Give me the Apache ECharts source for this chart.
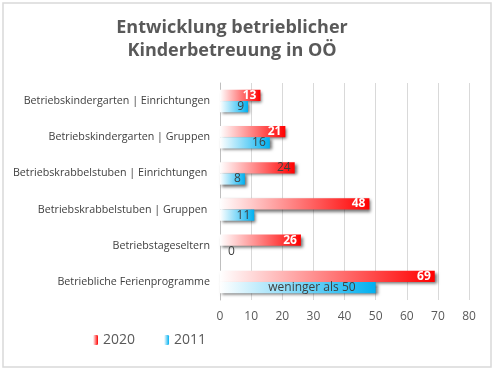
<!DOCTYPE html>
<html>
<head>
<meta charset="utf-8">
<script src="https://cdn.jsdelivr.net/npm/echarts@6/dist/echarts.min.js"></script>
<style>
html,body{margin:0;padding:0;background:#fff;}
#c{width:495px;height:372px;}
</style>
</head>
<body>
<div id="c"></div>
<script>
const categories = [
  "Betriebskindergarten | Einrichtungen",
  "Betriebskindergarten | Gruppen",
  "Betriebskrabbelstuben | Einrichtungen ",
  "Betriebskrabbelstuben | Gruppen ",
  "Betriebstageseltern",
  "Betriebliche Ferienprogramme"
];
const values2020 = [13, 21, 24, 48, 26, 69];
const values2011 = [9, 16, 8, 11, 0, 50];
const labels2011 = ["9", "16", "8", "11", "0", "weninger als 50"];
const xTicks = { min: 0, max: 80, interval: 10 };
const titleLines = ["Entwicklung betrieblicher", "Kinderbetreuung in OÖ"];

const FONT = "'Open Sans', 'Noto Sans', sans-serif";

const redGrad = new echarts.graphic.LinearGradient(0, 0, 1, 0, [
  {offset: 0, color: '#ffffff'},
  {offset: 1, color: '#ff0000'}
]);
const blueGrad = new echarts.graphic.LinearGradient(0, 0, 1, 0, [
  {offset: 0, color: '#ffffff'},
  {offset: 1, color: '#00b0f0'}
]);

const shadow = {shadowColor: 'rgba(0,0,0,0.55)', shadowBlur: 3, shadowOffsetX: 2, shadowOffsetY: 2};

const data2020 = values2020.map(v => ({
  value: v,
  label: {
    color: v === 24 ? '#404040' : '#ffffff',
    fontWeight: v === 24 ? 'normal' : 'bold'
  }
}));
const data2011 = values2011.map((v, i) => {
  const item = {value: v, label: {formatter: labels2011[i]}};
  if (v === 0) { item.label.position = 'right'; item.label.distance = 8; }
  if (labels2011[i].length > 3) item.label.distance = 20;
  return item;
});

const chart = echarts.init(document.getElementById('c'), null, {renderer: 'canvas'});
chart.setOption({
  animation: false,
  textStyle: {fontFamily: FONT},
  grid: {left: 220, right: 26, top: 83, bottom: 72, containLabel: false},
  graphic: [
    {type: 'rect', shape: {x: 3, y: 3, width: 488, height: 364}, style: {fill: null, stroke: '#d9d9d9', lineWidth: 1.5}, silent: true},
    {type: 'text', x: 232, y: 16, style: {text: titleLines.join('\n'), textAlign: 'center', fill: '#595959', font: "bold 18px " + FONT, lineHeight: 23}}
  ],
  legend: {
    left: 88, top: 328,
    itemWidth: 5, itemHeight: 10, itemGap: 29,
    textStyle: {color: '#595959', fontSize: 14, fontFamily: FONT},
    data: ['2020', '2011']
  },
  xAxis: {
    type: 'value', min: xTicks.min, max: xTicks.max, interval: xTicks.interval,
    axisLine: {show: false}, axisTick: {show: false},
    axisLabel: {color: '#595959', fontSize: 12, margin: 11},
    splitLine: {lineStyle: {color: '#d9d9d9', width: 1}}
  },
  yAxis: {
    type: 'category', data: categories, inverse: true,
    axisLine: {show: true, lineStyle: {color: '#bfbfbf'}},
    axisTick: {show: false},
    axisLabel: {color: '#404040', fontSize: 10.7, margin: 10}
  },
  series: [
    {
      name: '2020', type: 'bar', data: data2020,
      barGap: '0%', barCategoryGap: '38%',
      itemStyle: Object.assign({color: redGrad}, shadow),
      label: {show: true, position: 'insideRight', fontSize: 12, distance: 4}
    },
    {
      name: '2011', type: 'bar', data: data2011,
      barGap: '0%', barCategoryGap: '38%',
      itemStyle: Object.assign({color: blueGrad}, shadow),
      label: {show: true, position: 'insideRight', fontSize: 12, color: '#404040', distance: 4}
    }
  ]
});
</script>
</body>
</html>
